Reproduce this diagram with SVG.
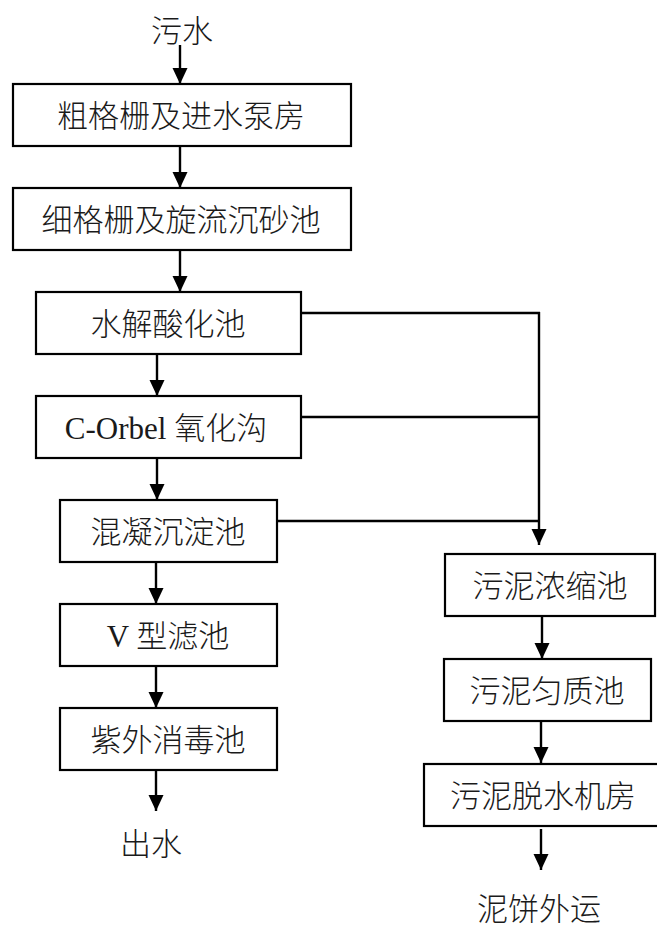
<svg xmlns="http://www.w3.org/2000/svg" width="657" height="929" viewBox="0 0 657 929">
<defs>
<marker id="arr" markerUnits="userSpaceOnUse" markerWidth="18" markerHeight="18" refX="16" refY="8" orient="auto">
<path d="M0,0.5 L16,8 L0,15.5 z" fill="#000"/>
</marker>
<style>
.box{fill:#fff;stroke:#000;stroke-width:2.2}
.t{font-family:"Liberation Serif","Noto Sans CJK SC",serif;font-size:31px;font-weight:300;fill:#1a1a1a;text-anchor:middle}
.c{fill:none;stroke:#000;stroke-width:2.4}
.a{fill:none;stroke:#000;stroke-width:2.4;marker-end:url(#arr)}
</style>
</defs>
<rect width="657" height="929" fill="#fff"/>
<g id="connectors">
<line class="a" x1="180" y1="45" x2="180" y2="84"/>
<line class="a" x1="180" y1="147" x2="180" y2="188"/>
<line class="a" x1="180" y1="251" x2="180" y2="292"/>
<line class="a" x1="157" y1="355" x2="157" y2="396"/>
<line class="a" x1="157" y1="459" x2="157" y2="500"/>
<line class="a" x1="156" y1="563" x2="156" y2="604"/>
<line class="a" x1="156" y1="667" x2="156" y2="708"/>
<line class="a" x1="156" y1="771" x2="156" y2="811"/>
<line class="c" x1="301" y1="313" x2="540" y2="313"/>
<line class="c" x1="301" y1="417" x2="539" y2="417"/>
<line class="c" x1="277" y1="521" x2="539" y2="521"/>
<line class="a" x1="539" y1="312" x2="539" y2="545"/>
<line class="a" x1="542" y1="617" x2="542" y2="659"/>
<line class="a" x1="541" y1="722" x2="541" y2="763"/>
<line class="a" x1="541" y1="829" x2="541" y2="870"/>
</g>
<g id="in"><text class="t" x="182" y="42">污水</text></g>
<g id="n1"><rect class="box" x="13" y="84" width="338" height="62"/><text class="t" x="181" y="127">粗格栅及进水泵房</text></g>
<g id="n2"><rect class="box" x="13" y="188" width="338" height="62"/><text class="t" x="181" y="231">细格栅及旋流沉砂池</text></g>
<g id="n3"><rect class="box" x="36" y="292" width="265" height="62"/><text class="t" x="168" y="335">水解酸化池</text></g>
<g id="n4"><rect class="box" x="36" y="396" width="265" height="62"/><text class="t" x="166" y="439">C-Orbel 氧化沟</text></g>
<g id="n5"><rect class="box" x="60" y="500" width="217" height="62"/><text class="t" x="168" y="543">混凝沉淀池</text></g>
<g id="n6"><rect class="box" x="60" y="604" width="217" height="62"/><text class="t" x="168" y="647">V 型滤池</text></g>
<g id="n7"><rect class="box" x="60" y="708" width="217" height="62"/><text class="t" x="168" y="751">紫外消毒池</text></g>
<g id="out1"><text class="t" x="151" y="855">出水</text></g>
<g id="n8"><rect class="box" x="445" y="554" width="210" height="62"/><text class="t" x="550" y="597">污泥浓缩池</text></g>
<g id="n9"><rect class="box" x="444" y="659" width="207" height="62"/><text class="t" x="547" y="702">污泥匀质池</text></g>
<g id="n10"><rect class="box" x="424" y="764" width="245" height="62"/><text class="t" x="543" y="807">污泥脱水机房</text></g>
<g id="out2"><text class="t" x="539" y="920">泥饼外运</text></g>
</svg>
